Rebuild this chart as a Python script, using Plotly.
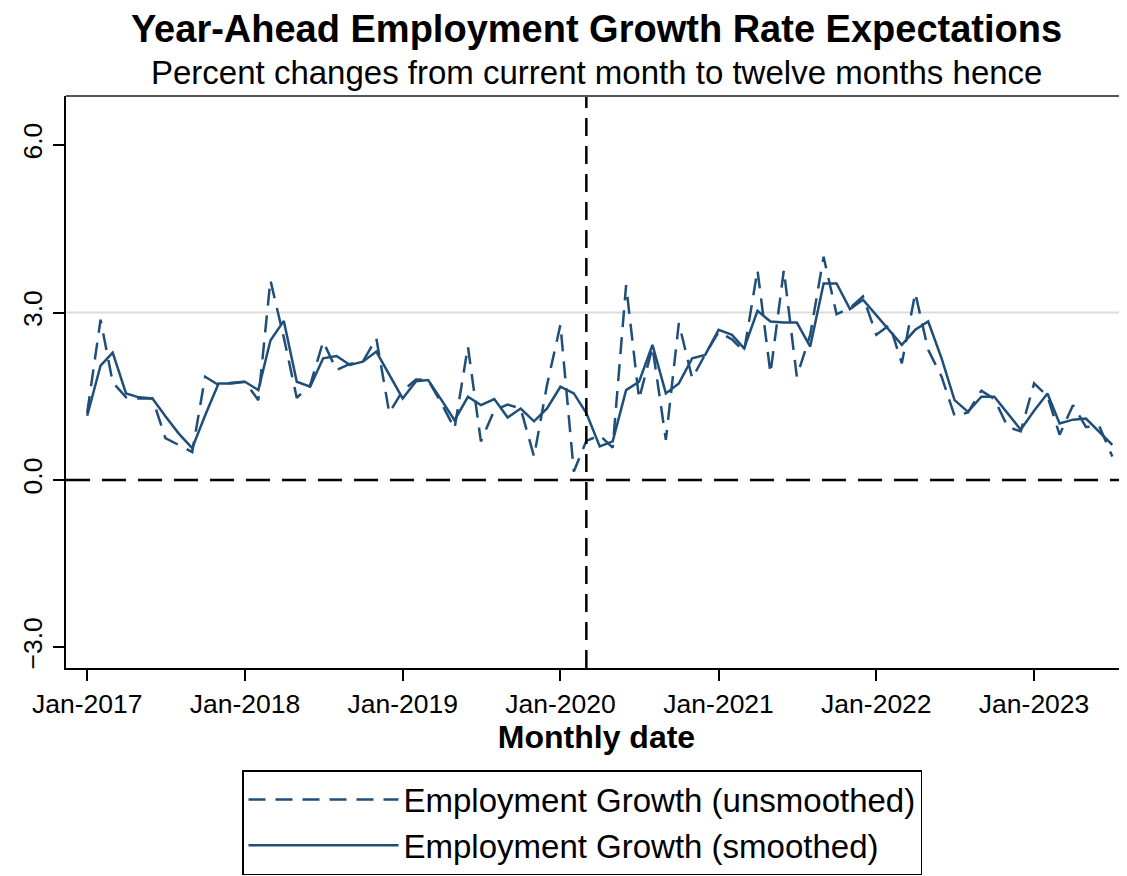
import plotly.graph_objects as go

months = [
    "2017-01", "2017-02", "2017-03", "2017-04", "2017-05", "2017-06", "2017-07", "2017-08", "2017-09", "2017-10", "2017-11", "2017-12",
    "2018-01", "2018-02", "2018-03", "2018-04", "2018-05", "2018-06", "2018-07", "2018-08", "2018-09", "2018-10", "2018-11", "2018-12",
    "2019-01", "2019-02", "2019-03", "2019-04", "2019-05", "2019-06", "2019-07", "2019-08", "2019-09", "2019-10", "2019-11", "2019-12",
    "2020-01", "2020-02", "2020-03", "2020-04", "2020-05", "2020-06", "2020-07", "2020-08", "2020-09", "2020-10", "2020-11", "2020-12",
    "2021-01", "2021-02", "2021-03", "2021-04", "2021-05", "2021-06", "2021-07", "2021-08", "2021-09", "2021-10", "2021-11", "2021-12",
    "2022-01", "2022-02", "2022-03", "2022-04", "2022-05", "2022-06", "2022-07", "2022-08", "2022-09", "2022-10", "2022-11", "2022-12",
    "2023-01", "2023-02", "2023-03", "2023-04", "2023-05", "2023-06", "2023-07",
]

unsmoothed = [
    1.20, 2.87, 1.75, 1.48, 1.46, 1.46, 0.75, 0.62, 0.50, 1.85, 1.70, 1.74,
    1.76, 1.43, 3.58, 2.55, 1.47, 1.70, 2.48, 1.97, 2.08, 2.12, 2.54, 1.20,
    1.60, 1.80, 1.79, 1.37, 0.92, 2.39, 0.69, 1.25, 1.35, 1.28, 0.42, 1.70,
    2.78, 0.15, 0.70, 0.80, 0.58, 3.49, 1.45, 2.38, 0.72, 2.81, 1.82, 2.25,
    2.65, 2.52, 2.30, 3.76, 1.91, 3.76, 1.85, 2.60, 4.00, 2.97, 3.08, 3.29,
    2.60, 2.78, 2.09, 3.35, 2.33, 1.85, 1.15, 1.21, 1.60, 1.45, 0.95, 0.87,
    1.73, 1.50, 0.81, 1.34, 0.95, 0.96, 0.42,
]

smoothed = [
    1.15, 2.05, 2.28, 1.55, 1.48, 1.46, 1.14, 0.83, 0.57, 1.16, 1.73, 1.73,
    1.76, 1.61, 2.50, 2.85, 1.76, 1.67, 2.18, 2.22, 2.06, 2.12, 2.30, 1.88,
    1.46, 1.77, 1.79, 1.43, 1.07, 1.49, 1.34, 1.45, 1.12, 1.28, 1.05, 1.28,
    1.67, 1.55, 1.20, 0.60, 0.69, 1.61, 1.76, 2.42, 1.55, 1.73, 2.18, 2.24,
    2.69, 2.60, 2.36, 3.03, 2.84, 2.82, 2.82, 2.39, 3.52, 3.52, 3.06, 3.23,
    2.95, 2.69, 2.42, 2.69, 2.84, 2.18, 1.43, 1.22, 1.49, 1.49, 1.19, 0.90,
    1.24, 1.55, 1.01, 1.08, 1.10, 0.87, 0.63,
]

y_ticks = [-3.0, 0.0, 3.0, 6.0]
covid_line = "2020-03-01"
line_color = "#1f4e79"
font_family = "Liberation Sans, Arial, sans-serif"

W, H = 1119, 868
ML, MT, MB = 58, 88, 208
PH = H - MT - MB

fig = go.Figure()
fig.add_trace(go.Scatter(
    x=months, y=unsmoothed, mode="lines", name="Employment Growth (unsmoothed)",
    line=dict(color=line_color, width=2.5, dash="17px,10px"),
))
fig.add_trace(go.Scatter(
    x=months, y=smoothed, mode="lines", name="Employment Growth (smoothed)",
    line=dict(color=line_color, width=2.5),
))

# reference lines
fig.add_shape(type="line", xref="paper", yref="y", x0=0, x1=1, y0=3, y1=3,
              line=dict(color="#dcdcdc", width=2), layer="below")
fig.add_shape(type="line", xref="paper", yref="y", x0=0, x1=1, y0=0, y1=0,
              line=dict(color="black", width=2.5, dash="24px,12px"))
fig.add_shape(type="line", xref="x", yref="paper", x0=covid_line, x1=covid_line, y0=0, y1=1,
              line=dict(color="black", width=2.5, dash="18px,10px"))
# top border of plot region
fig.add_shape(type="line", xref="paper", yref="paper", x0=0, x1=1, y0=1, y1=1,
              line=dict(color="#555555", width=2))

fig.update_layout(
    width=W, height=H,
    margin=dict(l=ML, r=0, t=MT, b=MB),
    paper_bgcolor="white", plot_bgcolor="white",
    font=dict(family=font_family, color="black"),
    title=dict(
        text="<b>Year-Ahead Employment Growth Rate Expectations</b>",
        x=0.5, xref="paper", xanchor="center",
        y=1 - 21 / H, yref="container", yanchor="middle",
        font=dict(size=38, color="black", family=font_family),
    ),
    showlegend=True,
    legend=dict(
        x=(234 - ML) / 1061, xanchor="left",
        y=-(762 - (H - MB)) / PH, yanchor="top",
        bordercolor="black", borderwidth=1.5,
        font=dict(size=33, color="black", family=font_family),
        itemwidth=150,
        bgcolor="white",
    ),
)

fig.add_annotation(
    text="Percent changes from current month to twelve months hence",
    xref="paper", yref="paper", x=0.5, y=1 + (MT - 64) / PH,
    xanchor="center", yanchor="middle", showarrow=False,
    font=dict(size=33, color="black", family=font_family),
)

fig.update_xaxes(
    type="date",
    range=["2016-11-13", "2023-08-04"],
    tick0="2017-01-01", dtick="M12", tickformat="%b-%Y",
    ticks="outside", ticklen=11, tickwidth=1.5, tickcolor="black",
    showline=True, linecolor="black", linewidth=2,
    showgrid=False, zeroline=False,
    tickfont=dict(size=26.5, color="black", family=font_family),
    title=dict(text="<b>Monthly date</b>", standoff=4,
               font=dict(size=32, color="black", family=font_family)),
    automargin=False,
)
fig.update_yaxes(
    range=[-3.37, 6.88],
    tickvals=y_ticks, tickformat=".1f", tickangle=-90,
    ticks="outside", ticklen=11, tickwidth=1.5, tickcolor="black",
    showline=True, linecolor="black", linewidth=2,
    showgrid=False, zeroline=False,
    tickfont=dict(size=26.5, color="black", family=font_family),
    automargin=False,
)

fig.write_html("out.html")
